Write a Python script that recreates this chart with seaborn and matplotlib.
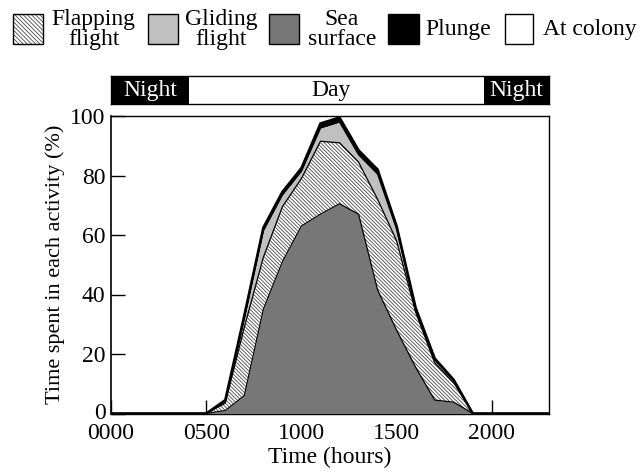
import numpy as np
import pandas as pd
import matplotlib
matplotlib.use("Agg")
import matplotlib.pyplot as plt
import matplotlib.transforms as mtransforms
from matplotlib.patches import Rectangle
import seaborn as sns

# ---------------- data ----------------
hours = list(range(24))
sea_surface = [0, 0, 0, 0, 0, 0, 1, 6, 35, 51, 63, 67, 70.5, 67, 41.5, 28, 15.5, 4.5, 3.8, 0, 0, 0, 0, 0]
flapping    = [0, 0, 0, 0, 0, 0, 2.5, 23, 17.5, 18.5, 16, 24.5, 20.5, 17.5, 30.5, 30, 18.5, 12.5, 6.5, 0, 0, 0, 0, 0]
gliding     = [0, 0, 0, 0, 0, 0, 0.5, 3, 9, 4, 2.5, 4.5, 7, 2.5, 8.5, 4, 1, 1, 0.7, 0, 0, 0, 0, 0]
plunge      = [0, 0, 0, 0, 0, 0, 0.5, 1, 1, 1, 1, 1.5, 1.5, 1.5, 1.5, 1, 0.5, 0.5, 0.3, 0, 0, 0, 0, 0]
x_ticks = [0, 5, 10, 15, 20]
x_tick_labels = ["0000", "0500", "1000", "1500", "2000"]
y_ticks = [0, 20, 40, 60, 80, 100]
sunrise, sunset = 4.1, 19.6
legend_labels = ["Flapping\nflight", "Gliding\nflight", "Sea\nsurface", "Plunge", "At colony"]

df = pd.DataFrame({"hour": hours, "sea": sea_surface, "flap": flapping,
                   "glide": gliding, "plunge": plunge})
df["c1"] = df["sea"]
df["c2"] = df["c1"] + df["flap"]
df["c3"] = df["c2"] + df["glide"]
df["c4"] = df["c3"] + df["plunge"]

# ---------------- style ----------------
sns.set_theme(style="ticks")
plt.rcParams["font.family"] = ["Liberation Serif", "DejaVu Serif"]
plt.rcParams["hatch.linewidth"] = 0.6
FS = 17
FS_Y = 16

W, H = 640, 475
fig = plt.figure(figsize=(W / 100, H / 100), dpi=100)
L, R, T, B = 111, 549, 116, 413.5
ax = fig.add_axes([L / W, 1 - B / H, (R - L) / W, (B - T) / H])

SEA_C = "#777777"
GLIDE_C = "#c0c0c0"
HATCH_C = "#4a4a4a"
HATCH = "\\" * 9

ax.fill_between(df["hour"], 0, df["c1"], facecolor=SEA_C, linewidth=0, zorder=3)
ax.fill_between(df["hour"], df["c1"], df["c2"], facecolor="white", edgecolor=HATCH_C,
                hatch=HATCH, linewidth=0, zorder=3)
ax.fill_between(df["hour"], df["c2"], df["c3"], facecolor=GLIDE_C, linewidth=0, zorder=3)
ax.fill_between(df["hour"], df["c3"], df["c4"], facecolor="black", linewidth=0, zorder=3)

for col, lw in [("c1", 0.9), ("c2", 0.9), ("c3", 1.0)]:
    sns.lineplot(data=df, x="hour", y=col, ax=ax, color="black", linewidth=lw,
                 zorder=4, legend=False)
sns.lineplot(data=df, x="hour", y="c4", ax=ax, color="black", linewidth=1.8,
             zorder=5, legend=False)

ax.set_xlim(0, 23)
ax.set_ylim(0, 100)
ax.set_axisbelow(True)
ax.set_xticks(x_ticks)
ax.set_xticklabels(x_tick_labels)
ax.set_yticks(y_ticks)
ax.tick_params(axis="both", direction="in", length=10, width=1, color="black",
               labelsize=FS, labelcolor="black", pad=4)
ax.tick_params(axis="x", pad=7)
for s in ax.spines.values():
    s.set_color("black")
    s.set_linewidth(1.0)
ax.spines["left"].set_linewidth(1.2)
ax.set_xlabel("Time (hours)", fontsize=FS, color="black", labelpad=2)
ax.set_ylabel("Time spent in each activity (%)", fontsize=FS_Y, color="black", labelpad=4)
ax.grid(False)

# nudge the bottom y label ("0") up slightly so it clears "0000"
lab0 = ax.get_yticklabels()[0]
lab0.set_transform(lab0.get_transform() +
                   mtransforms.ScaledTranslation(0, 2 / 72, fig.dpi_scale_trans))

# ---------------- night/day bar ----------------
bt, bb = 75.5, 103.5
axb = fig.add_axes([L / W, 1 - bb / H, (R - L) / W, (bb - bt) / H])
axb.set_xlim(0, 23)
axb.set_ylim(0, 1)
axb.axvspan(0, sunrise, color="black", lw=0)
axb.axvspan(sunset, 23, color="black", lw=0)
axb.set_xticks([])
axb.set_yticks([])
for s in axb.spines.values():
    s.set_color("black")
    s.set_linewidth(1.0)
axb.text(sunrise / 2, 0.45, "Night", color="white", ha="center", va="center", fontsize=FS)
axb.text((sunset + 23) / 2, 0.45, "Night", color="white", ha="center", va="center", fontsize=FS)
axb.text(11.55, 0.45, "Day", color="black", ha="center", va="center", fontsize=FS)

# ---------------- legend ----------------
boxes = [(12.7, 42.7), (148, 178), (269, 299), (388, 419), (505, 533)]
box_y0, box_y1 = 14, 43.5
styles = [dict(facecolor="white", edgecolor=HATCH_C, hatch="\\" * 8),
          dict(facecolor=GLIDE_C), dict(facecolor=SEA_C),
          dict(facecolor="black"), dict(facecolor="white")]
text_pos = [(93.5, "center"), (221, "center"), (342, "center"), (425, "left"), (543, "left")]
for (x0, x1), st, (tx, ha), lab in zip(boxes, styles, text_pos, legend_labels):
    if "hatch" in st:
        r = Rectangle((x0 / W, 1 - box_y1 / H), (x1 - x0) / W, (box_y1 - box_y0) / H,
                      transform=fig.transFigure, facecolor="white", edgecolor=HATCH_C,
                      hatch=st["hatch"], linewidth=0)
        fig.add_artist(r)
        r2 = Rectangle((x0 / W, 1 - box_y1 / H), (x1 - x0) / W, (box_y1 - box_y0) / H,
                       transform=fig.transFigure, facecolor="none", edgecolor="black",
                       linewidth=1.0)
        fig.add_artist(r2)
    else:
        r = Rectangle((x0 / W, 1 - box_y1 / H), (x1 - x0) / W, (box_y1 - box_y0) / H,
                      transform=fig.transFigure, facecolor=st["facecolor"], edgecolor="black",
                      linewidth=1.0)
        fig.add_artist(r)
    fig.text(tx / W, 1 - 29.5 / H, lab, ha=ha, va="center", fontsize=FS,
             linespacing=0.92, color="black", multialignment="center")

fig.savefig("out.png", dpi=100)
